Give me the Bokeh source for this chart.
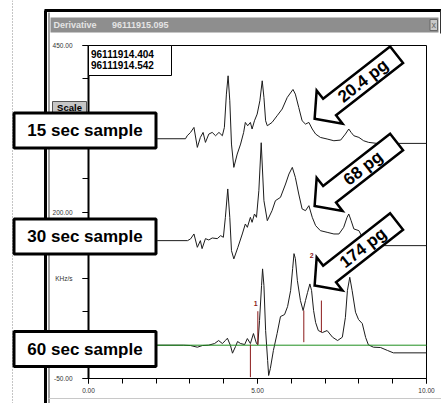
import math
from bokeh.plotting import figure
from bokeh.models import Range1d, FixedTicker, BoxAnnotation, Label, LinearAxis
from bokeh.embed import file_html
from bokeh.resources import INLINE

# ---------------- data (minutes, KHz/s) ----------------
time_15 = [0, 2.04, 2.87, 2.92, 3.02, 3.12, 3.22, 3.31, 3.39, 3.46, 3.56, 3.66, 3.76, 3.86, 3.96, 4.02,
           4.08, 4.13, 4.18, 4.23, 4.30, 4.40, 4.50, 4.59, 4.64, 4.71, 4.79, 4.84, 4.91, 4.99, 5.07, 5.14,
           5.19, 5.24, 5.29, 5.43, 5.58, 5.73, 5.88, 6.05, 6.12, 6.22, 6.32, 6.42, 6.52, 6.62, 6.72, 6.86,
           7.06, 7.26, 7.46, 7.60, 7.70, 7.77, 7.85, 8.00, 8.14, 8.29, 8.54, 10]
khz_15 = [310, 310, 310, 314.5, 319.5, 327, 297, 312, 319.5, 304.5, 317, 319.5, 314.5, 319.5, 314.5, 327,
          377, 404.5, 367, 302, 267, 287, 302, 319.5, 334.5, 329.5, 334.5, 324.6, 337, 347, 367, 397,
          372, 337, 329.5, 334.5, 344.5, 354.6, 372, 384, 377, 357, 337, 332, 334.5, 324.6, 317, 312,
          309.6, 307, 308, 317, 324.6, 319.5, 314.5, 312, 307, 304.5, 303, 303]

time_30 = [0, 2.04, 2.93, 3.02, 3.12, 3.22, 3.31, 3.36, 3.46, 3.56, 3.66, 3.81, 3.91, 3.99, 4.05, 4.12,
           4.18, 4.23, 4.30, 4.42, 4.55, 4.64, 4.70, 4.79, 4.84, 4.91, 4.97, 5.04, 5.11, 5.19, 5.29, 5.43,
           5.53, 5.68, 5.83, 5.93, 6.03, 6.12, 6.22, 6.32, 6.42, 6.52, 6.62, 6.72, 6.86, 7.06, 7.26, 7.41,
           7.55, 7.65, 7.70, 7.77, 7.85, 8.00, 8.10, 8.25, 8.54, 10]
khz_30 = [157, 157, 157, 159.6, 167, 147, 157, 145, 160, 158, 161, 160, 164.5, 162, 192, 234.6,
          192, 142, 129.6, 147, 167, 182, 177, 192, 184.5, 197, 192, 232, 304, 217, 187, 202,
          217, 222, 242, 257, 267, 252, 227, 204.6, 202, 209.5, 192, 179.5, 172, 169.5, 167, 167,
          177, 192, 197, 187, 174.6, 172, 162, 152, 149.5, 149.5]

time_60 = [0, 2.04, 2.81, 3.02, 3.22, 3.37, 3.55, 3.73, 3.85, 3.96, 4.05, 4.11, 4.20, 4.26, 4.35, 4.41,
           4.50, 4.62, 4.70, 4.79, 4.88, 4.97, 5.01, 5.06, 5.12, 5.15, 5.19, 5.24, 5.30, 5.33, 5.38, 5.47,
           5.58, 5.68, 5.80, 5.89, 5.98, 6.04, 6.08, 6.12, 6.18, 6.27, 6.35, 6.42, 6.48, 6.55, 6.60, 6.66,
           6.72, 6.80, 6.92, 7.06, 7.22, 7.37, 7.51, 7.60, 7.66, 7.73, 7.80, 7.90, 7.99, 8.10, 8.20, 8.28,
           8.43, 8.64, 8.85, 9.02, 10]
khz_60 = [0, 0, 0, -0.5, -3, -0.5, 0, 2.5, 7, 2.5, 7, 10.5, -0.5, -12, -2, 5.5,
          2.5, 1, 10, 2.5, 17.5, 2.5, 1, 37, 89.5, 114.6, 89.5, 22, -23, -45.5, -35, -8,
          17.5, 43, 46, 58, 82, 115, 137.5, 130, 97, 67, 52, 67, 79, 92, 82, 52,
          34, 22, 19, 22, 12, 7, 12, 41.5, 82, 102, 82, 49.5, 38.5, 32.5, 11.5, 0.6,
          -3, -3.5, -8, -11.5, -11.5]

marker_times = [4.79, 5.01, 6.37, 6.89]
marker_low = [-48, 0.6, 4.5, 19.5]
marker_high = [1, 51, 52, 67]
peak_numbers = ["1", "2"]
peak_number_times = [4.95, 6.60]
peak_number_vals = [63, 134.5]
baseline_value = 0

sample_labels = ["15 sec sample", "30 sec sample", "60 sec sample"]
amount_labels = ["20.4 pg", "68 pg", "174 pg"]
arrow_tip_times = [6.69, 6.69, 6.69]
arrow_tip_vals = [340, 209, 89.5]
legend_ids = ["96111914.404", "96111914.542"]
window_title = ["Derivative", "96111915.095"]

x_tick_vals = [0, 5, 10]
x_tick_labels = ["0.00", "5.00", "10.00"]
x_minor_ticks = list(range(0, 11))
y_tick_vals = [-50, 100, 200, 450]
y_tick_labels = ["-50.00", "KHz/s", "200.00", "450.00"]
y_minor_ticks = list(range(-50, 451, 50))

FONT = "Liberation Sans"

# ---------------- geometry of the page ----------------
W, H = 441, 403
SX = 338 / 10.0   # px per minute
SY = 333 / 500.0  # px per KHz/s
X0_PX, Y450_PX = 88, 45   # where time 0 / value 450 sit on the page


def X(px):  # page pixel -> data x (window decorations only)
    return (px - X0_PX) / SX


def Y(py):  # page pixel -> data y
    return 450 - (py - Y450_PX) / SY


p = figure(width=W, height=H, x_range=Range1d(X(0), X(W)), y_range=Range1d(Y(H), Y(0)),
           output_backend="svg", toolbar_location=None,
           x_axis_location=None, y_axis_location=None,
           min_border=0, min_border_left=0, min_border_right=0,
           min_border_top=0, min_border_bottom=0)
p.xgrid.visible = False
p.ygrid.visible = False
p.background_fill_color = "white"
p.border_fill_color = "white"
p.outline_line_color = None

xaxis = LinearAxis(fixed_location=-50, bounds=(0, 10),
                   ticker=FixedTicker(ticks=x_tick_vals, minor_ticks=x_minor_ticks))
xaxis.major_label_overrides = dict(zip(x_tick_vals, x_tick_labels))
xaxis.major_tick_out = 5
xaxis.minor_tick_out = 5
xaxis.major_label_standoff = 4
xaxis.axis_line_width = 1

yaxis = LinearAxis(fixed_location=0, bounds=(-50, 450),
                   ticker=FixedTicker(ticks=y_tick_vals, minor_ticks=y_minor_ticks))
yaxis.major_label_overrides = dict(zip(y_tick_vals, y_tick_labels))
yaxis.major_tick_out = 6
yaxis.minor_tick_out = 6
yaxis.major_label_standoff = 10
yaxis.axis_line_width = 2

for ax in (xaxis, yaxis):
    ax.major_label_text_font = FONT
    ax.major_label_text_font_size = "6.5px"
    ax.major_label_text_color = "#333333"
    ax.axis_line_color = "black"
    ax.major_tick_line_color = "black"
    ax.minor_tick_line_color = "black"
    ax.major_tick_in = 0
    ax.minor_tick_in = 0
p.add_layout(xaxis, "below")
p.add_layout(yaxis, "left")


def label(x, y, text, size, color="black", bold=True, align="left", angle=0):
    return Label(x=x, y=y, text=text, text_align=align, text_baseline="middle",
                 text_font=FONT, text_font_size=size,
                 text_font_style="bold" if bold else "normal", text_color=color,
                 angle=angle, angle_units="deg")


def box(left, right, top, bottom, fill=None, line=None, lw=1, level="annotation"):
    return BoxAnnotation(left=left, right=right, top=top, bottom=bottom,
                         fill_color=fill if fill else "white", fill_alpha=1 if fill else 0,
                         line_color=line if line else "black", line_alpha=1 if line else 0,
                         line_width=lw, level=level)


# ---------------- window decoration ----------------
p.segment(x0=[X(12)], y0=[Y(0)], x1=[X(12)], y1=[Y(H)], line_color="#8a8a8a", line_width=1,
          line_dash="1 2")
p.add_layout(box(X(50), X(438), Y(17), Y(32), fill="#8e8e8e"))
p.segment(x0=[X(45), X(44)], y0=[Y(10), Y(10)], x1=[X(45), X(W)], y1=[Y(H), Y(10)],
          line_color="black", line_width=3)
p.segment(x0=[X(48.5)], y0=[Y(12)], x1=[X(48.5)], y1=[Y(H)], line_color="#a0a0a0", line_width=2)
p.segment(x0=[X(440)], y0=[Y(10)], x1=[X(440)], y1=[Y(33)], line_color="#333333", line_width=1)
p.segment(x0=[X(48)], y0=[Y(398)], x1=[X(W)], y1=[Y(398)], line_color="#c8c8c8", line_width=1)
p.add_layout(box(X(429.5), X(437), Y(19), Y(30), fill="#c8c8c8", line="#666666"))
p.add_layout(label(X(433.3), Y(24), "x", "9px", "#666666", bold=False, align="center"))
p.add_layout(label(X(53), Y(24.5), window_title[0], "9px", "#e4e4e4"))
p.add_layout(label(X(111.5), Y(24.5), window_title[1], "9px", "#e4e4e4"))

# plot frame (top and right edges)
p.add_layout(box(x_tick_vals[0], x_tick_vals[-1], y_tick_vals[-1], y_tick_vals[0],
                 line="black", lw=1, level="underlay"))

# ---------------- traces ----------------
trace_color = "#1c1c1c"
p.line(time_15, khz_15, line_color=trace_color, line_width=1)
p.line(time_30, khz_30, line_color=trace_color, line_width=1)
p.line(time_60, khz_60, line_color=trace_color, line_width=1)

p.segment(x0=[x_tick_vals[0]], x1=[x_tick_vals[-1]], y0=[baseline_value], y1=[baseline_value],
          line_color="#1f8f1f", line_width=1)

p.segment(x0=marker_times, y0=marker_low, x1=marker_times, y1=marker_high,
          line_color="#8b1a1a", line_width=1)
for t, v, s in zip(peak_number_times, peak_number_vals, peak_numbers):
    p.add_layout(label(t, v, s, "7px", "#8b1a1a", align="center"))


# ---------------- block arrows ----------------
def arrow_poly(tx, ty, ang=38, hl=19, hw=21, sw=10.5, L=104):
    a = math.radians(ang)
    dx, dy = -math.cos(a), math.sin(a)
    nx, ny = math.sin(a), math.cos(a)
    pts = [(0, 0),
           (-hl * dx + hw * nx, -hl * dy + hw * ny),
           (-hl * dx + sw * nx, -hl * dy + sw * ny),
           (-L * dx + sw * nx, -L * dy + sw * ny),
           (-L * dx - sw * nx, -L * dy - sw * ny),
           (-hl * dx - sw * nx, -hl * dy - sw * ny),
           (-hl * dx - hw * nx, -hl * dy - hw * ny)]
    xs = [tx + q[0] / SX for q in pts]
    ys = [ty - q[1] / SY for q in pts]
    c = (hl + L) / 2.0
    return xs, ys, tx - c * dx / SX, ty + c * dy / SY


for t, v, s in zip(arrow_tip_times, arrow_tip_vals, amount_labels):
    xs, ys, cx, cy = arrow_poly(t, v)
    p.patch(xs, ys, fill_color="white", line_color="black", line_width=2.5, line_join="miter")
    p.add_layout(label(cx, cy, s, "17px", "black", align="center", angle=38))

# ---------------- legend box & scale button ----------------
p.add_layout(box(X(88), X(171), Y(45), Y(75), fill="white", line="black"))
for i, s in enumerate(legend_ids):
    p.add_layout(label(X(90.5), Y(53.5 + 11 * i), s, "10px"))

p.add_layout(box(X(52), X(86), Y(101), Y(113), fill="#c6c6c6", line="#555555"))
p.add_layout(label(X(69), Y(106.5), "Scale", "9.5px", align="center"))

# ---------------- sample call-out boxes ----------------
box_tops = [112.5, 218.5, 331]
for top, s in zip(box_tops, sample_labels):
    p.add_layout(box(X(13.5), X(155.5), Y(top), Y(top + 35), fill="white", line="black", lw=3))
    p.add_layout(label(X(84.5), Y(top + 17.5), s, "17px", align="center"))

open("out.html", "w").write(file_html(p, INLINE))
